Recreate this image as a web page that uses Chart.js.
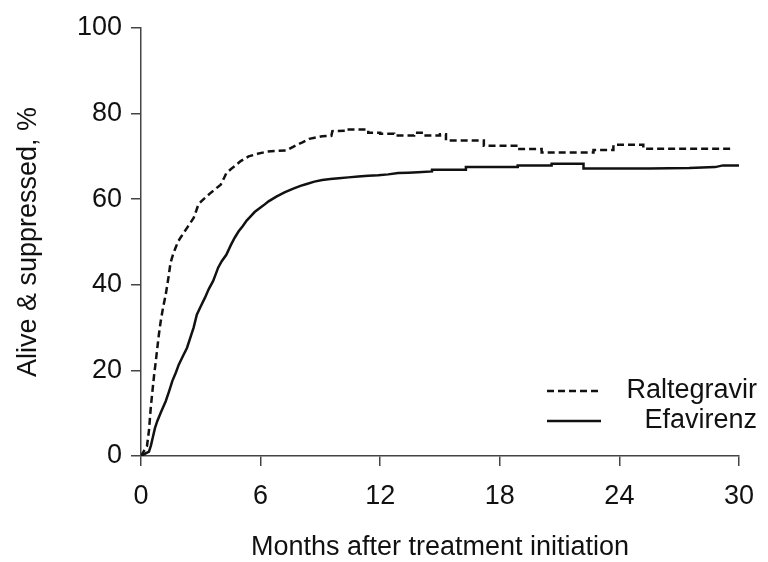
<!DOCTYPE html>
<html><head><meta charset="utf-8">
<script src="https://cdn.jsdelivr.net/npm/chart.js@4.4.1/dist/chart.umd.min.js"></script>
<style>html,body{margin:0;padding:0;background:#fff}canvas{display:block}</style>
</head><body>
<canvas id="c" width="768" height="562"></canvas>
<script>
// ---- data (repeated months mark the vertical drops of the step curve) ----
const seriesNames = ['Raltegravir', 'Efavirenz'];
const raltMonths = [0, 0.3, 0.4, 0.49, 0.57, 0.66, 0.74, 0.82, 0.9, 0.99, 1.1, 1.24, 1.32, 1.4, 1.48, 1.6, 1.73, 1.85, 1.98, 2.15, 2.31, 2.48, 2.64, 2.75, 2.88, 3.05, 3.21, 3.45, 3.71, 4.0, 4.15, 4.28, 4.5, 4.7, 5.0, 5.4, 5.85, 6.3, 6.8, 7.3, 7.78, 8.1, 8.44, 9.09, 9.55, 9.6, 10.3, 10.3, 11.4, 11.4, 12.0, 12.0, 12.7, 12.7, 13.7, 13.7, 14.2, 14.2, 15.0, 15.0, 15.3, 15.3, 17.2, 17.2, 18.9, 18.9, 20.1, 20.1, 22.7, 22.7, 23.7, 23.7, 25.2, 25.2, 29.7];
const raltValues = [0, 2.3, 6, 11.3, 15, 19, 22, 25.3, 28.5, 31.5, 34.5, 37.7, 40, 42.4, 45.1, 47, 48.6, 50, 51, 52.2, 53.3, 54.5, 55.6, 57, 58.8, 59.6, 60.3, 61.3, 62.3, 63.4, 64.8, 66.1, 67, 67.7, 68.9, 70, 70.6, 71.1, 71.3, 71.4, 72.6, 73.3, 74.1, 74.7, 74.8, 75.9, 76.0, 76.3, 76.3, 75.5, 75.5, 75.3, 75.3, 74.9, 74.9, 75.5, 75.5, 74.9, 74.9, 75.2, 75.2, 73.7, 73.7, 72.5, 72.5, 71.7, 71.7, 70.9, 70.9, 71.5, 71.5, 72.7, 72.7, 71.8, 71.8];
const efvMonths = [0, 0.4, 0.5, 0.6, 0.7, 0.82, 1.0, 1.24, 1.4, 1.57, 1.75, 1.9, 2.1, 2.31, 2.5, 2.64, 2.8, 3.0, 3.21, 3.4, 3.62, 3.75, 3.87, 4.05, 4.28, 4.5, 4.7, 4.9, 5.1, 5.3, 5.5, 5.7, 5.93, 6.13, 6.4, 6.79, 7.2, 7.61, 8.0, 8.27, 8.7, 9.09, 9.5, 9.92, 10.4, 10.9, 11.4, 11.9, 12.4, 12.9, 13.4, 13.9, 14.6, 14.6, 16.3, 16.3, 18.9, 18.9, 20.6, 20.6, 22.2, 22.2, 25.5, 27.5, 28.8, 29.2, 30];
const efvValues = [0, 1, 2.5, 4.5, 6.5, 8.2, 10.2, 12.8, 15, 17.5, 19.5, 21.4, 23.3, 25.3, 28, 30, 33, 35, 37, 39, 40.9, 42.5, 44, 45.5, 47, 49.2, 51, 52.5, 53.7, 55, 56, 57, 57.8, 58.5, 59.5, 60.6, 61.6, 62.4, 63.1, 63.5, 64.1, 64.5, 64.7, 64.9, 65.1, 65.3, 65.5, 65.6, 65.8, 66.1, 66.2, 66.3, 66.5, 66.9, 66.9, 67.5, 67.5, 67.9, 67.9, 68.3, 68.3, 67.2, 67.2, 67.3, 67.5, 67.9, 67.9];
const xTicks = [0, 6, 12, 18, 24, 30];
const yTicks = [0, 20, 40, 60, 80, 100];
const xTitle = 'Months after treatment initiation';
const yTitle = 'Alive & suppressed, %';

// ---- styling ----
const FONT = '"Liberation Sans", Arial, Helvetica, sans-serif';
const INK = '#111';
const AXIS = '#444';
Chart.defaults.font.family = FONT;
Chart.defaults.font.size = 27;
Chart.defaults.color = INK;

const toPts = (xs, ys) => xs.map((x, i) => ({ x: x, y: ys[i] }));

const legendPlugin = {
  id: 'kmLegend',
  afterDatasetsDraw(chart) {
    const ctx = chart.ctx;
    const rows = [
      { ds: chart.data.datasets[0], y: 391 },
      { ds: chart.data.datasets[1], y: 421 }
    ];
    ctx.save();
    rows.forEach(r => {
      ctx.strokeStyle = r.ds.borderColor;
      ctx.lineWidth = r.ds.borderWidth;
      ctx.setLineDash(r.ds.borderDash || []);
      ctx.beginPath();
      ctx.moveTo(547, r.y);
      ctx.lineTo(601, r.y);
      ctx.stroke();
      ctx.setLineDash([]);
      ctx.fillStyle = INK;
      ctx.font = '27px ' + FONT;
      ctx.textAlign = 'right';
      ctx.textBaseline = 'middle';
      ctx.fillText(r.ds.label, 757, r.y);
    });
    ctx.restore();
  }
};

new Chart(document.getElementById('c'), {
  type: 'line',
  data: {
    datasets: [
      { label: seriesNames[0], data: toPts(raltMonths, raltValues), borderColor: INK, borderWidth: 2.5, borderDash: [7, 4], pointRadius: 0, tension: 0, fill: false },
      { label: seriesNames[1], data: toPts(efvMonths, efvValues), borderColor: INK, borderWidth: 2.5, pointRadius: 0, tension: 0, fill: false }
    ]
  },
  options: {
    responsive: false,
    animation: false,
    layout: { padding: { left: 0, right: 20, top: 28, bottom: 0 } },
    plugins: { legend: { display: false }, tooltip: { enabled: false } },
    scales: {
      x: {
        type: 'linear', min: 0, max: 30,
        afterBuildTicks: s => { s.ticks = xTicks.map(v => ({ value: v })); },
        afterFit: s => { s.height = 106; },
        grid: { drawOnChartArea: false, drawTicks: true, tickLength: 10, color: AXIS, lineWidth: 1.5 },
        border: { display: true, color: AXIS, width: 1.5 },
        ticks: { padding: 14, color: INK, font: { size: 27 }, maxRotation: 0, autoSkip: false },
        title: { display: true, text: xTitle, color: INK, font: { size: 27 }, padding: { top: 0, bottom: -2 } }
      },
      y: {
        type: 'linear', min: 0, max: 100,
        afterBuildTicks: s => { s.ticks = yTicks.map(v => ({ value: v })); },
        afterFit: s => { s.width = 141; },
        grid: { drawOnChartArea: false, drawTicks: true, tickLength: 10, color: AXIS, lineWidth: 1.5 },
        border: { display: true, color: AXIS, width: 1.5 },
        ticks: { padding: 9, color: INK, font: { size: 27 }, autoSkip: false },
        title: { display: true, text: yTitle, color: INK, font: { size: 27 }, padding: { top: 12, bottom: 0 } }
      }
    }
  },
  plugins: [legendPlugin]
});
</script>
</body></html>
